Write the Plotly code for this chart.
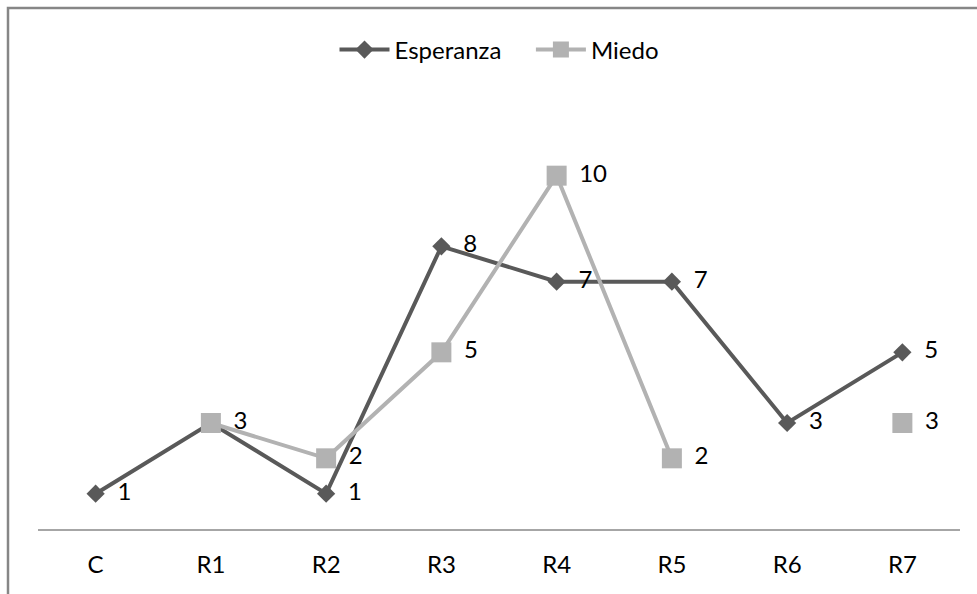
import plotly.graph_objects as go

# Categories and series values
categories = ["C", "R1", "R2", "R3", "R4", "R5", "R6", "R7"]
esperanza = [1, 3, 1, 8, 7, 7, 3, 5]
miedo = [None, 3, 2, 5, 10, 2, None, 3]
# Esperanza's R1 label sits under Miedo's identical "3", so only one is shown
esperanza_label_shown = [True, False, True, True, True, True, True, True]

DARK = "#595959"
LIGHT = "#b2b2b2"
FONT = "Lato"
FS = 24

W, H = 977, 594
ML, MR, MT, MB = 38, 17, 105, 65

def labels(vals, pad, shown=None):
    out = []
    for i, v in enumerate(vals):
        if v is None or (shown is not None and not shown[i]):
            out.append("")
        else:
            out.append("\u2009" * pad + str(v))
    return out

fig = go.Figure()
fig.add_trace(go.Scatter(
    x=categories, y=esperanza, name="Esperanza\u00a0\u00a0\u00a0\u00a0",
    mode="lines+markers+text",
    line=dict(color=DARK, width=4),
    marker=dict(symbol="diamond", size=14, color=DARK),
    text=labels(esperanza, 4, esperanza_label_shown), textposition="middle right",
    textfont=dict(family=FONT, size=FS, color="#000000"),
    cliponaxis=False,
))
fig.add_trace(go.Scatter(
    x=categories, y=miedo, name="Miedo",
    mode="lines+markers+text",
    line=dict(color=LIGHT, width=4),
    marker=dict(symbol="square", size=20, color=LIGHT),
    text=labels(miedo, 3), textposition="middle right",
    textfont=dict(family=FONT, size=FS, color="#000000"),
    connectgaps=False,
    cliponaxis=False,
))

pw = W - ML - MR
ph = H - MT - MB

# Outer chart frame (extends past the right and bottom edges)
fig.add_shape(
    type="rect", xref="paper", yref="paper",
    x0=(8 - ML) / pw, x1=(W + 20 - ML) / pw,
    y0=-(H + 20 - (H - MB)) / ph, y1=(H - MB - 8) / ph,
    line=dict(color="#868686", width=2.5), fillcolor="rgba(0,0,0,0)",
    layer="below",
)

fig.update_layout(
    width=W, height=H,
    margin=dict(l=ML, r=MR, t=MT, b=MB),
    paper_bgcolor="white", plot_bgcolor="white",
    font=dict(family=FONT, size=FS, color="#000000"),
    showlegend=True,
    legend=dict(
        orientation="h", x=0.5, xanchor="center",
        y=(H - MB - 50) / ph, yanchor="middle",
        font=dict(family=FONT, size=FS, color="#000000"),
        itemwidth=50, bgcolor="rgba(0,0,0,0)",
    ),
    xaxis=dict(
        type="category", range=[-0.5, 7.5],
        showline=True, linecolor="#a6a6a6", linewidth=2,
        showgrid=False, zeroline=False, ticks="",
        tickfont=dict(family=FONT, size=FS, color="#000000"),
        ticklabelstandoff=13,
    ),
    yaxis=dict(
        range=[0, 12], visible=False, showgrid=False, zeroline=False,
    ),
)

fig.write_html("out.html")
